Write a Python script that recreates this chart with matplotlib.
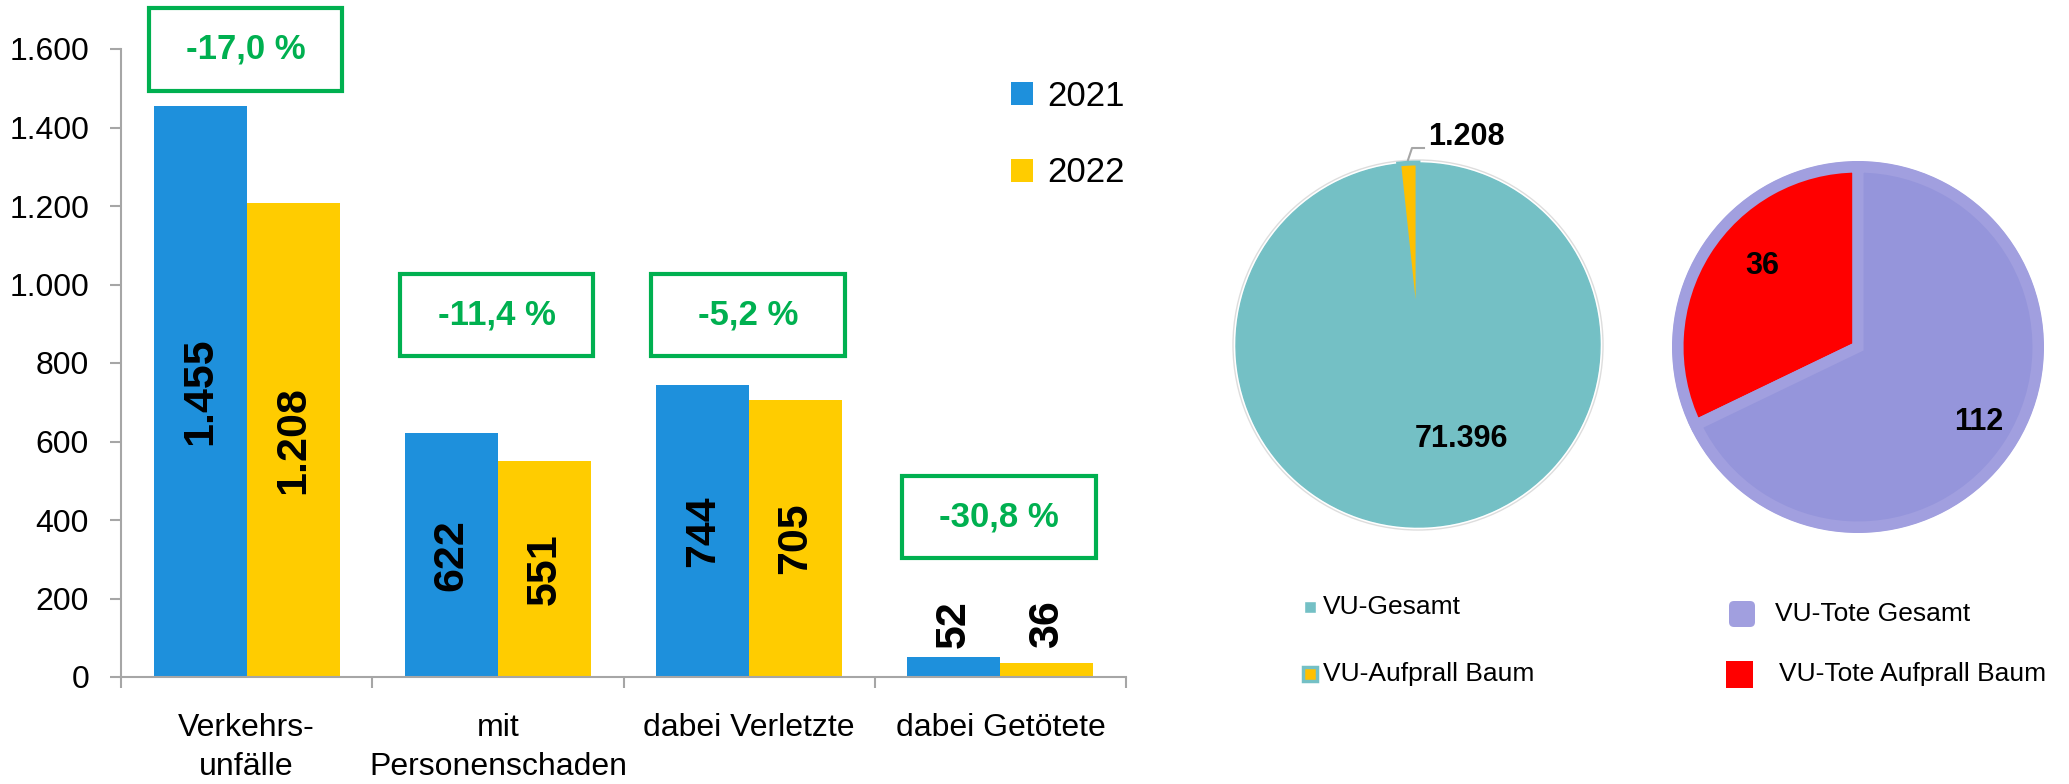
import numpy as np
import matplotlib.pyplot as plt
from matplotlib.patches import Rectangle, Circle, FancyBboxPatch

# bar chart data
categories = ['Verkehrs-\nunfälle', 'mit\nPersonenschaden', 'dabei Verletzte', 'dabei Getötete']
values_2021 = [1455, 622, 744, 52]
values_2022 = [1208, 551, 705, 36]
years = ['2021', '2022']

# pie data
vu_total = 71396
vu_tree = 1208
dead_total = 112
dead_tree = 36
pie1_labels = ['VU-Gesamt', 'VU-Aufprall Baum']
pie2_labels = ['VU-Tote Gesamt', 'VU-Tote Aufprall Baum']

blue = '#1E90DC'
yellow = '#FFCC00'
green = '#00B050'
teal = '#74C0C5'
pie_yellow = '#FFC000'
purple = '#9595DB'
rim = '#A19FDF'
red = '#FF0000'
grey = '#A6A6A6'

ARIAL = ['Liberation Sans', 'DejaVu Sans']
plt.rcParams['font.family'] = ARIAL


def de(n):
    return f'{n:,}'.replace(',', '.')


W, H = 2069, 784
fig = plt.figure(figsize=(W / 100, H / 100), dpi=100)

# overlay in pixel units for the pies
pax = fig.add_axes([0, 0, 1, 1])


def Y(y):
    return H - y


# ---- bar chart ----
ax = fig.add_axes([121 / W, 1 - 677 / H, (1126 - 121) / W, (677 - 49) / H])
x = np.arange(len(categories))
bw = 0.37
ax.bar(x - bw / 2, values_2021, bw, color=blue, label=years[0])
ax.bar(x + bw / 2, values_2022, bw, color=yellow, label=years[1])
ax.set_xlim(-0.5, 3.5)
ax.set_ylim(0, 1600)
ticks = list(range(0, 1601, 200))
ax.set_yticks(ticks)
ax.set_yticklabels([de(t) for t in ticks], fontsize=23)
ax.set_xticks(x)
ax.set_xticklabels(categories, fontsize=23, linespacing=1.4, va='top')
ax.set_xticks(np.arange(-0.5, 3.6, 1), minor=True)
ax.tick_params(axis='x', which='major', length=0, pad=26)
ax.tick_params(axis='x', which='minor', length=8, width=1.5, color=grey)
ax.tick_params(axis='y', length=8, width=1.5, color=grey, pad=15)
for s in ['top', 'right']:
    ax.spines[s].set_visible(False)
for s in ['left', 'bottom']:
    ax.spines[s].set_color(grey)
    ax.spines[s].set_linewidth(1.5)

for i in range(len(categories)):
    for v, off in [(values_2021[i], -bw / 2), (values_2022[i], bw / 2)]:
        if v >= 200:
            ax.text(i + off, v / 2, de(v), rotation=90, ha='center', va='center',
                    fontsize=31, fontweight='bold')
        else:
            ax.text(i + off, 75, de(v), rotation=90, ha='center', va='bottom',
                    fontsize=31, fontweight='bold')

# change boxes
box_bottoms = [1494, 818, 818, 302]
for i in range(len(categories)):
    pct = (values_2022[i] - values_2021[i]) / values_2021[i] * 100
    txt = f'{pct:.1f} %'.replace('.', ',')
    y0 = box_bottoms[i]
    ax.add_patch(Rectangle((i - 0.39, y0), 0.77, 210, fill=False, edgecolor=green,
                           lw=3, clip_on=False))
    ax.text(i - 0.005, y0 + 105, txt, ha='center', va='center', color=green,
            fontsize=25, fontweight='bold')

ax.legend(loc='upper left', bbox_to_anchor=(1011 / W, 1 - 80 / H),
          bbox_transform=fig.transFigure, frameon=False, fontsize=25,
          handlelength=0.63, handleheight=0.63, handletextpad=0.4,
          labelspacing=1.25, borderpad=0, borderaxespad=0)

# ---- pie 1 ----
pax.add_patch(Circle((1418, Y(345)), 185, facecolor='white', edgecolor='#DDDDDD', lw=1))
w1, _ = pax.pie([vu_tree, vu_total - vu_tree], colors=[pie_yellow, teal], startangle=90,
                center=(1418, Y(345)), radius=182, frame=True,
                wedgeprops=dict(edgecolor=teal, linewidth=1))
w1[0].set_linewidth(3.5)
w1[0].set_zorder(3)
pax.plot([1408, 1412, 1424], [Y(160), Y(148), Y(148)], color=grey, lw=1.5)
pax.text(1428, Y(137), de(vu_tree), ha='left', va='center', fontsize=22,
         fontweight='bold')
pax.text(1461, Y(439), de(vu_total), ha='center', va='center', fontsize=22,
         fontweight='bold')

# ---- pie 2 ----
pax.add_patch(Circle((1858, Y(347)), 186, facecolor=rim, edgecolor='none'))
pax.pie([dead_tree, dead_total - dead_tree], colors=[red, purple], startangle=90,
        center=(1858, Y(347)), radius=180, frame=True,
        wedgeprops=dict(edgecolor=rim, linewidth=8))
pax.text(1762, Y(266), de(dead_tree), ha='center', va='center', fontsize=22,
         fontweight='bold')
pax.text(1979, Y(422), de(dead_total), ha='center', va='center', fontsize=22,
         fontweight='bold')

# ---- pie legends ----
pax.plot(1310, Y(607), marker='s', ms=9, color=teal, mec='white', ls='none')
pax.plot(1310, Y(674), marker='s', ms=10, color=pie_yellow, mec=teal, mew=2.5, ls='none')
pax.text(1323, Y(607), pie1_labels[0], ha='left', va='center', fontsize=19)
pax.text(1323, Y(674), pie1_labels[1], ha='left', va='center', fontsize=19)
pax.add_patch(FancyBboxPatch((1729, Y(627)), 26, 26, boxstyle='round,pad=0,rounding_size=5',
                             facecolor=rim, edgecolor='none'))
pax.add_patch(Rectangle((1726, Y(688)), 27, 27, facecolor=red, edgecolor='none'))
pax.text(1775, Y(614), pie2_labels[0], ha='left', va='center', fontsize=19)
pax.text(1779, Y(674), pie2_labels[1], ha='left', va='center', fontsize=19)

pax.set_xlim(0, W)
pax.set_ylim(0, H)
pax.set_aspect('equal')
pax.axis('off')

fig.savefig('out.png', dpi=100)
